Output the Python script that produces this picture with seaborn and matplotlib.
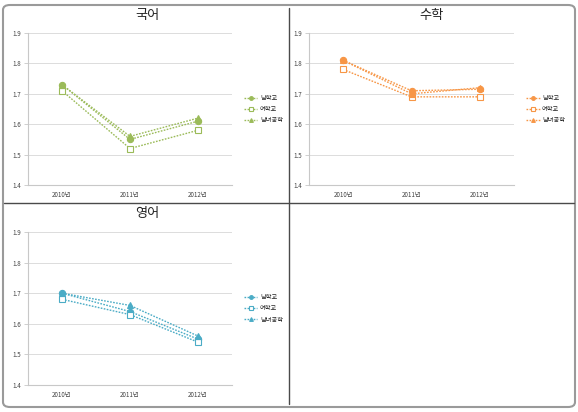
import matplotlib
matplotlib.use('Agg')
import matplotlib.pyplot as plt
from matplotlib.patches import FancyBboxPatch
from matplotlib.lines import Line2D
import seaborn as sns
import pandas as pd

years = ['2010년', '2011년', '2012년']
schools = ['남학교', '여학교', '남녀공학']

korean_boys = [1.73, 1.55, 1.61]
korean_girls = [1.71, 1.52, 1.58]
korean_coed = [1.73, 1.56, 1.62]

math_boys = [1.81, 1.71, 1.715]
math_girls = [1.78, 1.69, 1.69]
math_coed = [1.81, 1.70, 1.72]

english_boys = [1.70, 1.64, 1.55]
english_girls = [1.68, 1.63, 1.54]
english_coed = [1.70, 1.66, 1.56]

subjects = ['국어', '수학', '영어']
subject_values = {
    '국어': [korean_boys, korean_girls, korean_coed],
    '수학': [math_boys, math_girls, math_coed],
    '영어': [english_boys, english_girls, english_coed],
}
colors = {'국어': '#9bbb59', '수학': '#f79646', '영어': '#4bacc6'}
y_ticks = [1.4, 1.5, 1.6, 1.7, 1.8, 1.9]

sns.set_style('white')
plt.rcParams['font.family'] = ['Noto Sans CJK KR', 'DejaVu Sans']

W, H = 578, 412
fig = plt.figure(figsize=(W / 100, H / 100), dpi=100)

# panel layout in pixels: (axes left, axes top, axes right, axes bottom, title x, title y)
panels = {
    '국어': (28, 33, 232, 185, 147, 16),
    '수학': (309, 33, 514, 185, 431, 16),
    '영어': (28, 232, 232, 385, 147, 214),
}
markers = ['o', 's', '^']

for subj in subjects:
    l, t, r, b, tx, ty = panels[subj]
    ax = fig.add_axes([l / W, 1 - b / H, (r - l) / W, (b - t) / H])
    color = colors[subj]
    x_pos = list(range(len(years)))
    for i, school in enumerate(schools):
        df = pd.DataFrame({'x': x_pos, 'y': subject_values[subj][i]})
        face = 'white' if school == '여학교' else color
        sns.lineplot(data=df, x='x', y='y', ax=ax, color=color, marker=markers[i],
                     markersize=4.5, markerfacecolor=face, markeredgecolor=color,
                     markeredgewidth=0.8, linestyle=(0, (1.2, 1.0)), linewidth=1.0,
                     label=school)
    ax.set_xlim(-0.5, 2.5)
    ax.set_ylim(1.4, 1.9)
    ax.set_yticks(y_ticks)
    ax.set_yticklabels([f'{v:.1f}' for v in y_ticks], fontsize=4.5, color='#444444')
    ax.set_xticks(x_pos)
    ax.set_xticklabels(years, fontsize=4.5, color='#444444')
    ax.set_xticks([-0.5, 0.5, 1.5, 2.5], minor=True)
    ax.tick_params(axis='x', which='major', length=0, pad=4)
    ax.tick_params(axis='x', which='minor', length=11, width=0.8, color='#c8c8c8', direction='out')
    ax.tick_params(axis='y', length=3, width=0.6, color='#c8c8c8', pad=2, left=True)
    ax.grid(axis='y', color='#dcdcdc', linewidth=0.7)
    ax.set_axisbelow(True)
    for side in ['top', 'right']:
        ax.spines[side].set_visible(False)
    ax.spines['left'].set_color('#c8c8c8')
    ax.spines['bottom'].set_color('#c8c8c8')
    ax.set_xlabel('')
    ax.set_ylabel('')
    ax.legend(loc='center left', bbox_to_anchor=(1.03, 0.5), frameon=False,
              fontsize=4.5, handlelength=2.2, handletextpad=0.4, labelspacing=0.5,
              markerscale=0.6)
    fig.text(tx / W, 1 - ty / H, subj, ha='center', va='center', fontsize=9.5, color='#222222')

# outer frame and dividers
fig.patches.append(FancyBboxPatch((3 / W, 5 / H), 572 / W, 402 / H,
                                  boxstyle='round,pad=0,rounding_size=0.012',
                                  transform=fig.transFigure, facecolor='none',
                                  edgecolor='#9a9a9a', linewidth=1.5))
fig.add_artist(Line2D([289 / W, 289 / W], [1 - 8 / H, 1 - 404 / H], color='#4a4a4a', linewidth=1))
fig.add_artist(Line2D([4 / W, 574 / W], [1 - 203 / H, 1 - 203 / H], color='#4a4a4a', linewidth=1))

fig.savefig('out.png', dpi=100)
